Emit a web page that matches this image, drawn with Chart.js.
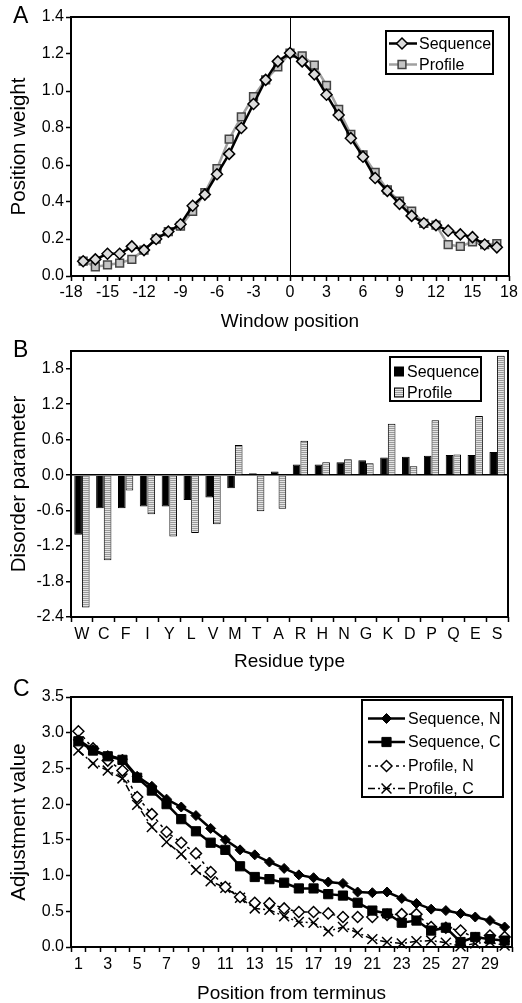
<!DOCTYPE html>
<html>
<head>
<meta charset="utf-8">
<script src="https://cdn.jsdelivr.net/npm/chart.js@4.4.1/dist/chart.umd.min.js"></script>
<style>
  body { margin: 0; background: #fff; width: 522px; height: 1003px; position: relative; overflow: hidden;
         font-family: 'Liberation Sans', Arial, sans-serif; }
  canvas { position: absolute; left: 0; }
  .tag { position: absolute; left: 13px; font-size: 23px; line-height: 1; }
</style>
</head>
<body>
<canvas id="chartA" width="522" height="334" style="top:0"></canvas>
<canvas id="chartB" width="522" height="340" style="top:334px"></canvas>
<canvas id="chartC" width="522" height="333" style="top:672px"></canvas>
<div class="tag" style="top:4px">A</div>
<div class="tag" style="top:338px">B</div>
<div class="tag" style="top:677px">C</div>
<script>
// Panel A – position weights across the window
const windowPos = [-17, -16, -15, -14, -13, -12, -11, -10, -9, -8, -7, -6, -5, -4, -3, -2, -1,
  0, 1, 2, 3, 4, 5, 6, 7, 8, 9, 10, 11, 12, 13, 14, 15, 16, 17];
const seqWeight = [0.08, 0.09, 0.12, 0.12, 0.16, 0.14, 0.20, 0.24, 0.28, 0.38, 0.44, 0.55, 0.66, 0.80, 0.93, 1.06, 1.16,
  1.205, 1.16, 1.09, 0.98, 0.87, 0.745, 0.645, 0.53, 0.46, 0.39, 0.325, 0.285, 0.275, 0.245, 0.225, 0.21, 0.17, 0.155];
const profWeight = [0.08, 0.05, 0.06, 0.07, 0.09, 0.14, 0.20, 0.24, 0.27, 0.35, 0.45, 0.58, 0.74, 0.86, 0.97, 1.06, 1.13,
  1.205, 1.19, 1.14, 1.03, 0.90, 0.765, 0.655, 0.56, 0.465, 0.405, 0.35, 0.285, 0.275, 0.17, 0.16, 0.185, 0.17, 0.175];
const yTicksA = [0, 0.2, 0.4, 0.6, 0.8, 1.0, 1.2, 1.4];

// Panel B – disorder parameter per residue
const residues = ['W', 'C', 'F', 'I', 'Y', 'L', 'V', 'M', 'T', 'A', 'R', 'H', 'N', 'G', 'K', 'D', 'P', 'Q', 'E', 'S'];
const seqDisorder = [-1.01, -0.56, -0.56, -0.53, -0.53, -0.42, -0.38, -0.22, 0.03, 0.06,
  0.18, 0.18, 0.22, 0.25, 0.30, 0.31, 0.33, 0.34, 0.34, 0.39];
const profDisorder = [-2.24, -1.44, -0.26, -0.66, -1.04, -0.98, -0.83, 0.51, -0.61, -0.57,
  0.58, 0.22, 0.27, 0.20, 0.87, 0.15, 0.93, 0.35, 1.00, 2.02];
const yTicksB = [-2.4, -1.8, -1.2, -0.6, 0, 0.6, 1.2, 1.8];

// Panel C – adjustment vs position from terminus
const termPos = ['1', '2', '3', '4', '5', '6', '7', '8', '9', '10', '11', '12', '13', '14', '15',
  '16', '17', '18', '19', '20', '21', '22', '23', '24', '25', '26', '27', '28', '29', '30'];
const seqN = [2.90, 2.76, 2.68, 2.63, 2.39, 2.25, 2.07, 1.96, 1.84, 1.66, 1.50, 1.36, 1.29, 1.19, 1.10,
  1.01, 0.97, 0.91, 0.89, 0.77, 0.76, 0.77, 0.68, 0.61, 0.53, 0.51, 0.47, 0.42, 0.37, 0.28];
const seqC = [2.88, 2.75, 2.67, 2.62, 2.37, 2.19, 2.00, 1.79, 1.62, 1.46, 1.36, 1.13, 0.98, 0.95, 0.90,
  0.82, 0.82, 0.74, 0.72, 0.62, 0.51, 0.47, 0.34, 0.37, 0.23, 0.27, 0.07, 0.14, 0.11, 0.09];
const profN = [3.02, 2.78, 2.61, 2.47, 2.10, 1.86, 1.61, 1.46, 1.31, 1.05, 0.84, 0.70, 0.62, 0.61, 0.54,
  0.49, 0.49, 0.47, 0.42, 0.42, 0.42, 0.45, 0.46, 0.46, 0.28, 0.27, 0.23, 0.12, 0.16, 0.14];
const profC = [2.75, 2.57, 2.47, 2.36, 1.99, 1.68, 1.47, 1.30, 1.08, 0.92, 0.83, 0.69, 0.54, 0.52, 0.43,
  0.35, 0.34, 0.22, 0.28, 0.20, 0.11, 0.07, 0.05, 0.08, 0.09, 0.06, 0.01, 0.05, 0.07, 0.02];
const yTicksC = [0, 0.5, 1.0, 1.5, 2.0, 2.5, 3.0, 3.5];

const FONT = "'Liberation Sans', Arial, sans-serif";
Chart.defaults.font.family = FONT;
Chart.defaults.font.size = 16;
Chart.defaults.color = '#000';
Chart.defaults.animation = false;

// black frame round the plot area
const framePlugin = {
  id: 'frame',
  afterDatasetsDraw(chart) {
    const a = chart.chartArea, ctx = chart.ctx;
    ctx.save();
    ctx.strokeStyle = '#000';
    ctx.lineWidth = 2;
    ctx.strokeRect(a.left, a.top, a.right - a.left, a.bottom - a.top);
    ctx.restore();
  }
};

// boxed legend inside the plot, drawn from the datasets' own styles
const boxLegend = {
  id: 'boxLegend',
  afterDraw(chart, args, o) {
    const ctx = chart.ctx;
    ctx.save();
    ctx.fillStyle = '#fff';
    ctx.fillRect(o.x, o.y, o.w, o.h);
    ctx.strokeStyle = '#000';
    ctx.lineWidth = 2;
    ctx.strokeRect(o.x, o.y, o.w, o.h);
    ctx.font = o.size + 'px ' + FONT;
    ctx.textBaseline = 'middle';
    chart.data.datasets.forEach((ds, i) => {
      const y = o.rows[i];
      if (chart.config.type === 'bar') {
        ctx.fillStyle = ds.backgroundColor;
        ctx.fillRect(o.markX - 4.5, y - 4.5, 9, 9);
        ctx.strokeStyle = '#000';
        ctx.lineWidth = 1;
        ctx.strokeRect(o.markX - 4.5, y - 4.5, 9, 9);
      } else {
        ctx.strokeStyle = ds.borderColor;
        ctx.lineWidth = ds.borderWidth;
        ctx.setLineDash(ds.borderDash || []);
        ctx.beginPath();
        ctx.moveTo(o.x0, y);
        ctx.lineTo(o.x1, y);
        ctx.stroke();
        ctx.setLineDash([]);
        ctx.fillStyle = ds.pointBackgroundColor;
        ctx.strokeStyle = ds.pointBorderColor;
        ctx.lineWidth = ds.pointBorderWidth;
        Chart.helpers.drawPoint(ctx, {
          pointStyle: ds.pointStyle, radius: ds.pointRadius,
          borderWidth: ds.pointBorderWidth, rotation: 0
        }, o.markX, y);
      }
      ctx.fillStyle = '#000';
      ctx.fillText(ds.label, o.textX, y + 1);
    });
    ctx.restore();
  }
};

function setTicks(list) {
  return scale => { scale.ticks = list.map(v => ({ value: v })); };
}
const tickMarks = { drawOnChartArea: false, tickLength: 5, tickColor: '#000', tickWidth: 1.5 };

function yAxis(min, max, list, title) {
  return {
    min: min, max: max,
    border: { display: false },
    grid: Object.assign({}, tickMarks),
    afterBuildTicks: setTicks(list),
    afterFit: s => { s.width = 71; },
    ticks: { padding: 2, callback: v => Number(v).toFixed(1) },
    title: { display: true, text: title, font: { size: 20.5 }, padding: { top: 7 } }
  };
}

// ---- A ----
new Chart(document.getElementById('chartA'), {
  type: 'line',
  data: {
    datasets: [{
      label: 'Sequence',
      data: windowPos.map((x, i) => ({ x: x, y: seqWeight[i] })),
      borderColor: '#000', borderWidth: 2.5,
      pointStyle: 'rectRot', pointRadius: 5.5, pointBackgroundColor: '#dcdcdc',
      pointBorderColor: '#000', pointBorderWidth: 1.5, clip: false
    }, {
      label: 'Profile',
      data: windowPos.map((x, i) => ({ x: x, y: profWeight[i] })),
      borderColor: '#a0a0a0', borderWidth: 2.5,
      pointStyle: 'rect', pointRadius: 5.5, pointBackgroundColor: '#c4c4c4',
      pointBorderColor: '#444', pointBorderWidth: 1.5, clip: false
    }]
  },
  options: {
    responsive: false,
    layout: { padding: { top: 17, right: 13, left: 0, bottom: 0 } },
    plugins: {
      legend: { display: false }, tooltip: { enabled: false },
      boxLegend: { x: 386, y: 31, w: 107, h: 43, rows: [43.5, 64.5], x0: 389, x1: 417, markX: 402, textX: 419, size: 16 }
    },
    scales: {
      x: {
        type: 'linear', min: -18, max: 18,
        border: { display: false },
        grid: Object.assign({}, tickMarks, {
          drawOnChartArea: true, lineWidth: 1,
          color: c => (c.tick && c.tick.value === 0) ? '#000' : 'rgba(0,0,0,0)'
        }),
        afterFit: s => { s.height = 58; },
        ticks: {
          stepSize: 1, autoSkip: false, maxRotation: 0, padding: 2,
          callback: v => (Math.round(v) % 3 === 0 ? String(Math.round(v)) : '')
        },
        title: { display: true, text: 'Window position', font: { size: 19 }, padding: { bottom: 1 } }
      },
      y: yAxis(0, 1.4, yTicksA, 'Position weight')
    }
  },
  plugins: [framePlugin, boxLegend]
});

// ---- B ----
const stripe = document.createElement('canvas');
stripe.width = 2; stripe.height = 2;
const sctx = stripe.getContext('2d');
sctx.fillStyle = '#e4e4e4'; sctx.fillRect(0, 0, 2, 2);
sctx.fillStyle = '#9a9a9a'; sctx.fillRect(0, 0, 2, 1);
const stripeFill = sctx.createPattern(stripe, 'repeat');

new Chart(document.getElementById('chartB'), {
  type: 'bar',
  data: {
    labels: residues,
    datasets: [{
      label: 'Sequence', data: seqDisorder,
      backgroundColor: '#000', borderColor: '#000', borderWidth: 1,
      barPercentage: 1, categoryPercentage: 0.7
    }, {
      label: 'Profile', data: profDisorder,
      backgroundColor: stripeFill, borderColor: '#000', borderWidth: 1,
      barPercentage: 1, categoryPercentage: 0.7
    }]
  },
  options: {
    responsive: false,
    layout: { padding: { top: 17, right: 14, left: 0, bottom: 0 } },
    plugins: {
      legend: { display: false }, tooltip: { enabled: false },
      boxLegend: { x: 390, y: 23, w: 91, h: 44, rows: [37.5, 58.5], markX: 399, textX: 407, size: 16 }
    },
    scales: {
      x: {
        border: { display: false },
        grid: Object.assign({}, tickMarks, { offset: true }),
        afterFit: s => { s.height = 57; },
        ticks: { autoSkip: false, maxRotation: 0, padding: 3 },
        title: { display: true, text: 'Residue type', font: { size: 19 }, padding: { bottom: 1 } }
      },
      y: (() => {
        const ax = yAxis(-2.4, 2.1, yTicksB, 'Disorder parameter');
        ax.grid = Object.assign({}, tickMarks, {
          drawOnChartArea: true, lineWidth: 1.5,
          color: c => (c.tick && c.tick.value === 0) ? '#000' : 'rgba(0,0,0,0)'
        });
        return ax;
      })()
    }
  },
  plugins: [framePlugin, boxLegend]
});

// ---- C ----
new Chart(document.getElementById('chartC'), {
  type: 'line',
  data: {
    labels: termPos,
    datasets: [{
      label: 'Sequence, N', data: seqN,
      borderColor: '#000', borderWidth: 2.5,
      pointStyle: 'rectRot', pointRadius: 5, pointBackgroundColor: '#000',
      pointBorderColor: '#000', pointBorderWidth: 1, clip: false
    }, {
      label: 'Sequence, C', data: seqC,
      borderColor: '#000', borderWidth: 2.5,
      pointStyle: 'rect', pointRadius: 6.5, pointBackgroundColor: '#000',
      pointBorderColor: '#000', pointBorderWidth: 1, clip: false
    }, {
      label: 'Profile, N', data: profN,
      borderColor: '#000', borderWidth: 1.5, borderDash: [3, 4],
      pointStyle: 'rectRot', pointRadius: 5.5, pointBackgroundColor: '#fff',
      pointBorderColor: '#000', pointBorderWidth: 1.5, clip: false
    }, {
      label: 'Profile, C', data: profC,
      borderColor: '#000', borderWidth: 1.5, borderDash: [7, 3, 2, 3],
      pointStyle: 'crossRot', pointRadius: 7, pointBackgroundColor: '#000',
      pointBorderColor: '#000', pointBorderWidth: 1.5, clip: false
    }]
  },
  options: {
    responsive: false,
    layout: { padding: { top: 25, right: 10, left: 0, bottom: 0 } },
    plugins: {
      legend: { display: false }, tooltip: { enabled: false },
      boxLegend: { x: 362, y: 28, w: 141, h: 97, rows: [46.5, 70, 94, 116.5], x0: 368, x1: 405, markX: 386.5, textX: 408, size: 16 }
    },
    scales: {
      x: {
        offset: true,
        border: { display: false },
        grid: Object.assign({}, tickMarks, { offset: true }),
        afterFit: s => { s.height = 58; },
        ticks: { autoSkip: false, maxRotation: 0, padding: 3, callback: (v, i) => (i % 2 === 0 ? termPos[i] : '') },
        title: { display: true, text: 'Position from terminus', font: { size: 19 }, padding: { bottom: 0 } }
      },
      y: yAxis(0, 3.5, yTicksC, 'Adjustment value')
    }
  },
  plugins: [framePlugin, boxLegend]
});
</script>
</body>
</html>
